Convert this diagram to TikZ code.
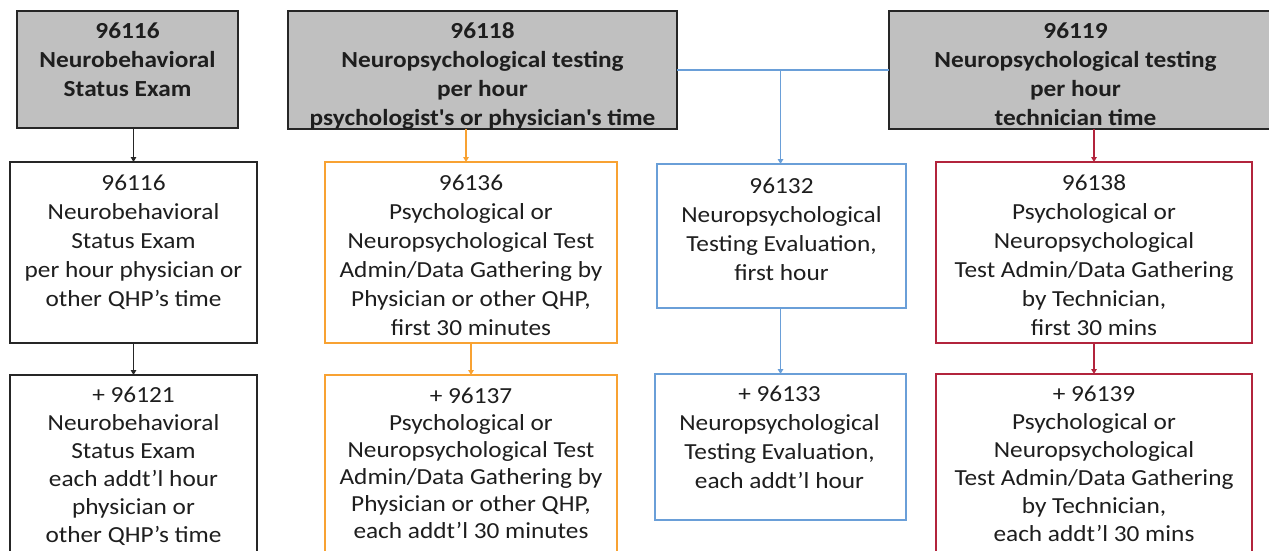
\documentclass[tikz,border=0pt]{standalone}
\usepackage{fontspec}
\setmainfont{Carlito}[FakeStretch=1.1]
\usetikzlibrary{arrows.meta}
\definecolor{grayfill}{HTML}{C0C0C0}
\definecolor{txtc}{HTML}{1E1E1E}
\definecolor{orng}{HTML}{F8A232}
\definecolor{blu}{HTML}{6A9FD8}
\definecolor{rd}{HTML}{B2243C}
\newcommand\fstrut{\rule{0pt}{17pt}}
\begin{document}
\begin{tikzpicture}[x=1pt,y=-1pt,
  boxbase/.style={rectangle, inner sep=0pt, outer sep=0pt, anchor=north west},
  graybox/.style={boxbase, draw=black!85, fill=grayfill, line width=1.3pt},
  blackbox/.style={boxbase, draw=black!85, fill=white, line width=1.3pt},
  orangebox/.style={boxbase, draw=orng, fill=white, line width=1.5pt},
  bluebox/.style={boxbase, draw=blu, fill=white, line width=1.5pt},
  redbox/.style={boxbase, draw=rd, fill=white, line width=1.5pt},
  txt/.style={inner sep=0pt, anchor=north, align=center, text=txtc, font=\fontsize{23}{29}\selectfont},
  btxt/.style={txt, font=\fontsize{23}{29}\selectfont\bfseries},
  arr/.style={line width=1.3pt, -{Triangle[length=5pt,width=5.5pt]}}
]
\clip (0,0) rectangle (1269,550);
\fill[white] (0,0) rectangle (1269,550);

% top gray boxes
\node[graybox, minimum width=221pt, minimum height=117pt] (g1) at (17,11) {};
\node[graybox, minimum width=389pt, minimum height=118pt] (g2) at (288,11) {};
\node[graybox, minimum width=385pt, minimum height=118pt] (g3) at (889,11) {};

% second row
\node[blackbox, minimum width=247pt, minimum height=181pt] (w1) at (10,162) {};
\node[orangebox, minimum width=292pt, minimum height=181pt] (o1) at (325,162) {};
\node[bluebox, minimum width=249pt, minimum height=144pt] (b1) at (657,164) {};
\node[redbox, minimum width=316pt, minimum height=181pt] (r1) at (936,162) {};

% third row
\node[blackbox, minimum width=247pt, minimum height=220pt] (w2) at (10,375) {};
\node[orangebox, minimum width=292pt, minimum height=220pt] (o2) at (325,375) {};
\node[bluebox, minimum width=251pt, minimum height=146pt] (b2) at (655,374) {};
\node[redbox, minimum width=316pt, minimum height=220pt] (r2) at (936,374) {};

% texts
\node[btxt] (t-g1) at ([yshift=-10pt]g1.north) {\fstrut 96116\\Neurobehavioral\\Status Exam};
\node[btxt] (t-g2) at ([yshift=-10pt]g2.north) {\fstrut 96118\\Neuropsychological testing\\per hour\\psychologist\textquotesingle s or physician\textquotesingle s time};
\node[btxt] (t-g3) at ([yshift=-10pt, xshift=-6pt]g3.north) {\fstrut 96119\\Neuropsychological testing\\per hour\\technician time};

\node[txt] (t-w1) at ([yshift=-11pt]w1.north) {\fstrut 96116\\Neurobehavioral\\Status Exam\\per hour physician or\\other QHP’s time};
\node[txt] (t-o1) at ([yshift=-11pt]o1.north) {\fstrut 96136\\Psychological or\\Neuropsychological Test\\Admin/Data Gathering by\\Physician or other QHP,\\first 30 minutes};
\node[txt] (t-b1) at ([yshift=-12pt]b1.north) {\fstrut 96132\\Neuropsychological\\Testing Evaluation,\\first hour};
\node[txt] (t-r1) at ([yshift=-11pt]r1.north) {\fstrut 96138\\Psychological or\\Neuropsychological\\Test Admin/Data Gathering\\by Technician,\\first 30 mins};

\node[txt, font=\fontsize{23}{28}\selectfont] (t-w2) at ([yshift=-10pt]w2.north) {\fstrut + 96121\\Neurobehavioral\\Status Exam\\each addt’l hour\\physician or\\other QHP’s time};
\node[txt, font=\fontsize{23}{27}\selectfont] (t-o2) at ([yshift=-11pt]o2.north) {\fstrut + 96137\\Psychological or\\Neuropsychological Test\\Admin/Data Gathering by\\Physician or other QHP,\\each addt’l 30 minutes};
\node[txt] (t-b2) at ([yshift=-10pt, xshift=-1pt]b2.north) {\fstrut + 96133\\Neuropsychological\\Testing Evaluation,\\each addt’l hour};
\node[txt, font=\fontsize{23}{28}\selectfont] (t-r2) at ([yshift=-10pt]r2.north) {\fstrut + 96139\\Psychological or\\Neuropsychological\\Test Admin/Data Gathering\\by Technician,\\each addt’l 30 mins};

% connectors
\draw[arr, black!85] (w1.north |- g1.south) -- (w1.north);
\draw[arr, black!85] (w1.south) -- (w2.north);
\draw[arr, orng] ([xshift=-5pt]o1.north |- g2.south) -- ([xshift=-5pt]o1.north);
\draw[arr, orng] (o1.south) -- (o2.north);
\draw[line width=1.5pt, blu] (g2.east) -- (g3.west);
\draw[arr, blu, line width=1.5pt] ([xshift=-1pt]b1.north |- g2.east) -- ([xshift=-1pt]b1.north);
\draw[arr, blu, line width=1.5pt] ([xshift=-1pt]b1.south) -- ([xshift=-1pt]b1.south |- b2.north);
\draw[arr, rd] (r1.north |- g3.south) -- (r1.north);
\draw[arr, rd] (r1.south) -- (r2.north);
\end{tikzpicture}
\end{document}
